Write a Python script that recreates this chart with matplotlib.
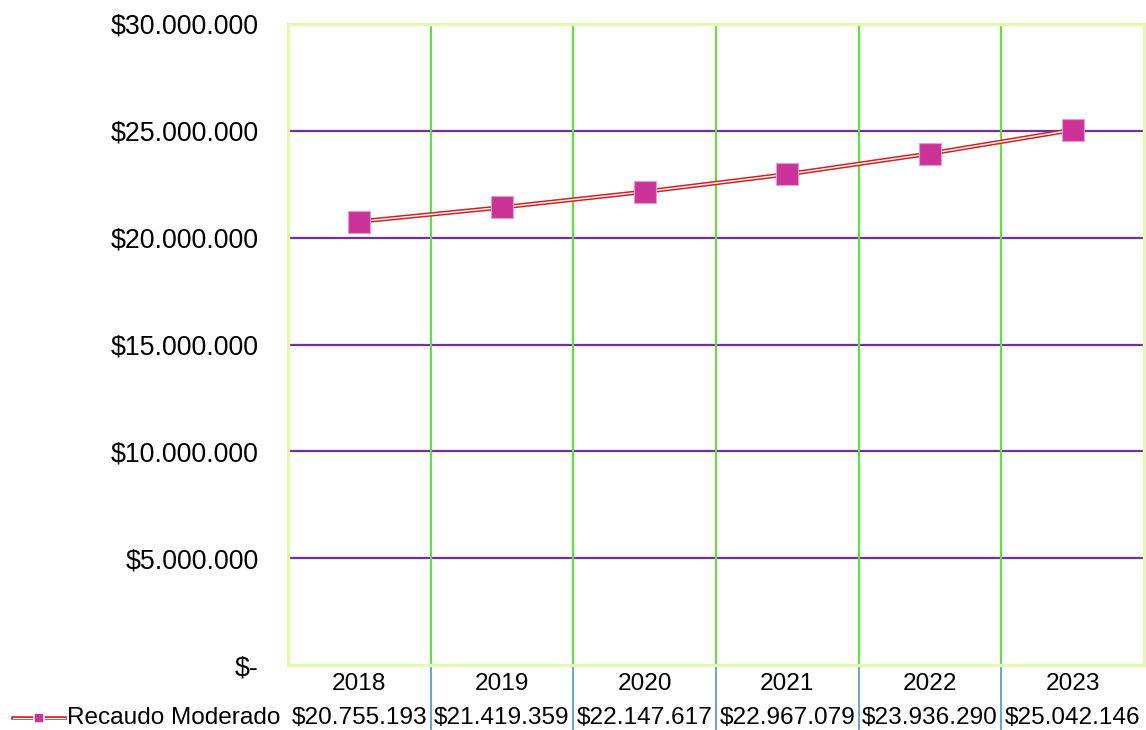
import matplotlib.pyplot as plt
from matplotlib.ticker import FuncFormatter
from matplotlib.transforms import blended_transform_factory

plt.rcParams['font.family'] = ['Liberation Sans', 'DejaVu Sans']

# Data
years = ['2018', '2019', '2020', '2021', '2022', '2023']
recaudo = [20755193, 21419359, 22147617, 22967079, 23936290, 25042146]
series_name = 'Recaudo Moderado'


def pesos(v, pos=None):
    if v == 0:
        return '$-'
    return '$' + f'{int(round(v)):,}'.replace(',', '.')


W, H = 1146, 730
fig = plt.figure(figsize=(W / 100, H / 100), dpi=100)
left, right, top, bottom = 288, 1144, 24, 665
ax = fig.add_axes([left / W, (H - bottom) / H, (right - left) / W, (bottom - top) / H])

n = len(years)
xs = [i + 0.5 for i in range(n)]
ax.set_xlim(0, n)
ax.set_ylim(0, 30000000)

# gridlines
for y in range(5000000, 30000000, 5000000):
    ax.axhline(y, color='#7030A0', lw=1.6, zorder=1)
for i in range(1, n):
    ax.axvline(i, color='#66DD44', lw=1.6, zorder=1)

# double red line with magenta markers
ax.plot(xs, recaudo, color='#D42020', lw=3.2, zorder=3, solid_capstyle='butt')
ax.plot(xs, recaudo, color='white', lw=1.0, zorder=4, solid_capstyle='butt')
ax.plot(xs, recaudo, ls='none', marker='s', markersize=16, color='#CC3399',
        markeredgecolor='#E89CCB', markeredgewidth=0.8, zorder=5)

# axes styling
for s in ax.spines.values():
    s.set_color('#E4F8B6')
    s.set_linewidth(2.4)
ax.set_xticks([])
ax.set_yticks(range(0, 30000001, 5000000))
ax.yaxis.set_major_formatter(FuncFormatter(pesos))
ax.tick_params(axis='y', length=0, pad=21, labelsize=19.3)

# data table
fs = 17.6
tr = blended_transform_factory(ax.transData, ax.transAxes)
ph = bottom - top
row1 = -(684 - bottom) / ph
row2 = -(718 - bottom) / ph
for x, yr, v in zip(xs, years, recaudo):
    ax.text(x, row1, yr, transform=tr, ha='center', va='center', fontsize=fs)
    ax.text(x, row2, pesos(v), transform=tr, ha='center', va='center', fontsize=fs)
for i in range(1, n):
    ax.plot([i, i], [0, -(H - bottom) / ph], transform=tr, color='#5B9BD5',
            lw=1.3, clip_on=False, zorder=2)

# legend key inside the table
fig.text(280 / W, 1 - 718 / H, series_name, ha='right', va='center', fontsize=fs)
ky = 1 - 718 / H
fig.add_artist(plt.Line2D([13 / W, 65 / W], [ky, ky], color='#D42020', lw=2.6,
                          transform=fig.transFigure))
fig.add_artist(plt.Line2D([13 / W, 65 / W], [ky, ky], color='white', lw=0.8,
                          transform=fig.transFigure))
fig.add_artist(plt.Line2D([39 / W], [ky], ls='none', marker='s', markersize=7.5,
                          color='#CC3399', markeredgecolor='white',
                          markeredgewidth=1.2, transform=fig.transFigure))

fig.savefig('out.png', dpi=100)
